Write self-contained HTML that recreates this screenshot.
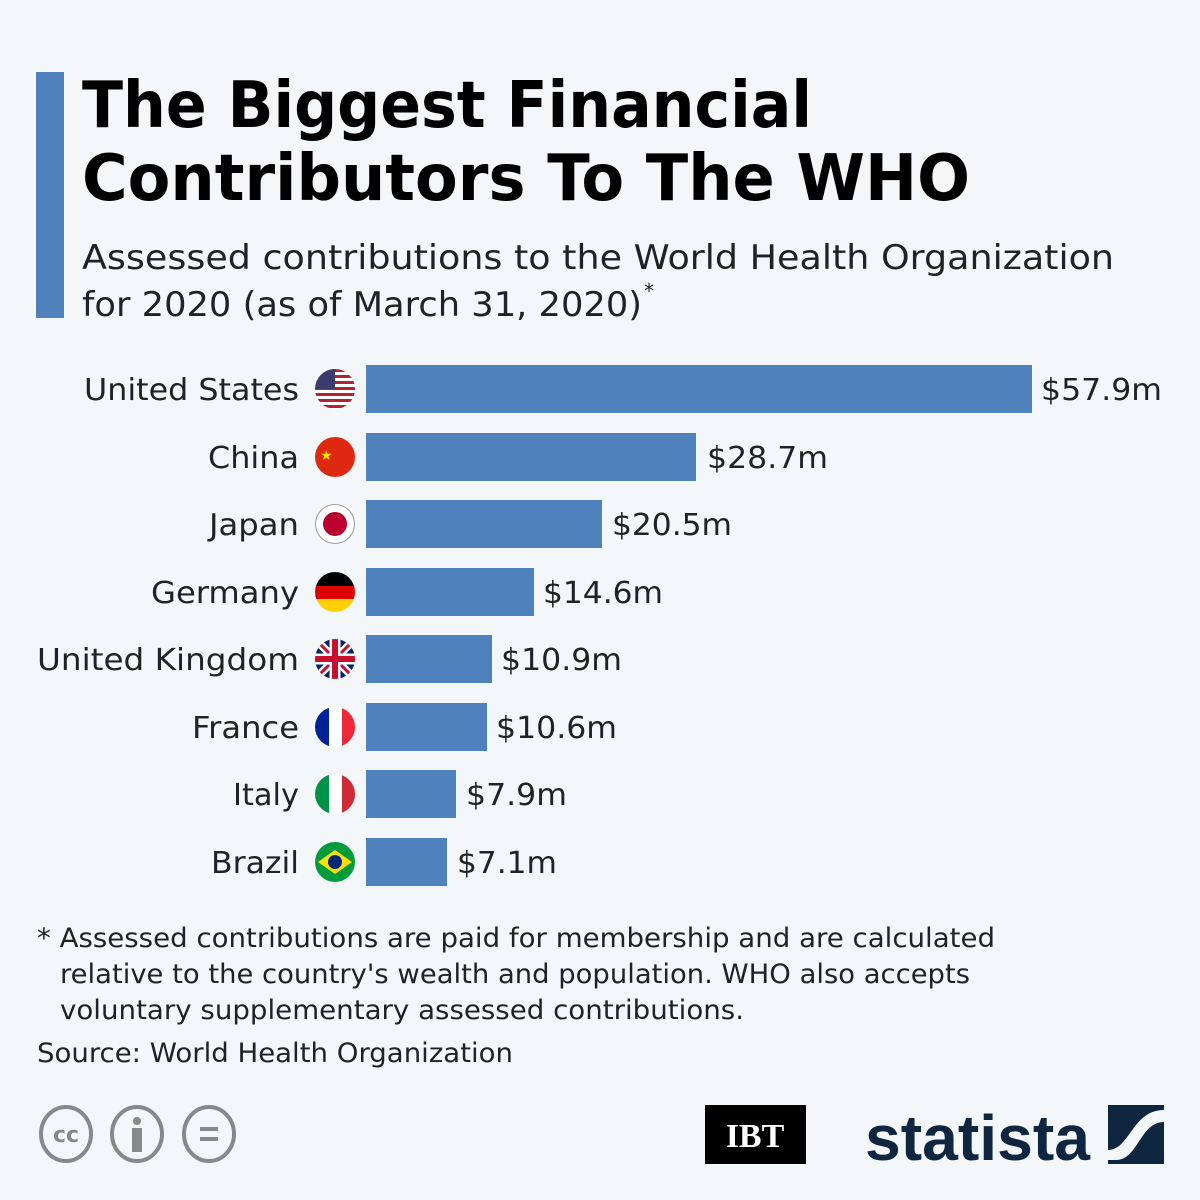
<!DOCTYPE html>
<html><head><style>
body{margin:0;background:#f3f7fa;}
svg{display:block;font-family:"DejaVu Sans","Liberation Sans",sans-serif;}
</style></head><body>
<svg width="1200" height="1200" viewBox="0 0 1200 1200" xmlns="http://www.w3.org/2000/svg">
<rect width="1200" height="1200" fill="#f3f7fa"/>
<rect x="36" y="72" width="28" height="246" fill="#4f81bd"/>
<g font-family="DejaVu Sans" font-weight="bold" font-size="64" fill="#000">
<text x="82" y="127" textLength="730" lengthAdjust="spacingAndGlyphs">The Biggest Financial</text>
<text x="82" y="200" textLength="888" lengthAdjust="spacingAndGlyphs">Contributors To The WHO</text>
</g>
<g font-size="34" fill="#222">
<text x="82" y="269" textLength="1032" lengthAdjust="spacingAndGlyphs">Assessed contributions to the World Health Organization</text>
<text x="82" y="316" textLength="560" lengthAdjust="spacingAndGlyphs">for 2020 (as of March 31, 2020)</text>
<text x="644" y="298" font-size="20">*</text>
</g>
<g font-size="30" fill="#222" text-anchor="end" lengthAdjust="spacingAndGlyphs">
<text x="299" y="400" textLength="215" lengthAdjust="spacingAndGlyphs">United States</text>
<text x="299" y="468" textLength="91" lengthAdjust="spacingAndGlyphs">China</text>
<text x="299" y="535" textLength="90" lengthAdjust="spacingAndGlyphs">Japan</text>
<text x="299" y="603" textLength="148" lengthAdjust="spacingAndGlyphs">Germany</text>
<text x="299" y="670" textLength="262" lengthAdjust="spacingAndGlyphs">United Kingdom</text>
<text x="299" y="738" textLength="107" lengthAdjust="spacingAndGlyphs">France</text>
<text x="299" y="805" textLength="66" lengthAdjust="spacingAndGlyphs">Italy</text>
<text x="299" y="873" textLength="88" lengthAdjust="spacingAndGlyphs">Brazil</text>
</g>
<g fill="#4f81bd">
<rect x="366" y="365" width="666" height="48"/>
<rect x="366" y="433" width="330" height="48"/>
<rect x="366" y="500" width="236" height="48"/>
<rect x="366" y="568" width="168" height="48"/>
<rect x="366" y="635" width="126" height="48"/>
<rect x="366" y="703" width="121" height="48"/>
<rect x="366" y="770" width="90" height="48"/>
<rect x="366" y="838" width="81" height="48"/>
</g>
<g font-size="30" fill="#222">
<text x="1041" y="400" textLength="121" lengthAdjust="spacingAndGlyphs">$57.9m</text>
<text x="707" y="468" textLength="121" lengthAdjust="spacingAndGlyphs">$28.7m</text>
<text x="612" y="535" textLength="120" lengthAdjust="spacingAndGlyphs">$20.5m</text>
<text x="543" y="603" textLength="120" lengthAdjust="spacingAndGlyphs">$14.6m</text>
<text x="501" y="670" textLength="121" lengthAdjust="spacingAndGlyphs">$10.9m</text>
<text x="496" y="738" textLength="121" lengthAdjust="spacingAndGlyphs">$10.6m</text>
<text x="466" y="805" textLength="101" lengthAdjust="spacingAndGlyphs">$7.9m</text>
<text x="457" y="873" textLength="100" lengthAdjust="spacingAndGlyphs">$7.1m</text>
</g>
<defs>
<clipPath id="c1"><circle cx="335" cy="389" r="20"/></clipPath>
<clipPath id="c4"><circle cx="335" cy="592" r="20"/></clipPath>
<clipPath id="c5"><circle cx="335" cy="659" r="20"/></clipPath>
<clipPath id="c6"><circle cx="335" cy="727" r="20"/></clipPath>
<clipPath id="c7"><circle cx="335" cy="794" r="20"/></clipPath>
</defs>
<g clip-path="url(#c1)">
<rect x="315" y="369" width="40" height="40" fill="#fff"/>
<g fill="#b22234"><rect x="315" y="369" width="40" height="3"/><rect x="315" y="375" width="40" height="3"/><rect x="315" y="381" width="40" height="3"/><rect x="315" y="387" width="40" height="3"/><rect x="315" y="393" width="40" height="3"/><rect x="315" y="399" width="40" height="3"/><rect x="315" y="405" width="40" height="3"/></g>
<rect x="315" y="369" width="20" height="20" fill="#3c3b6e"/>
</g>
<circle cx="335" cy="457" r="20" fill="#de2910"/>
<text x="320" y="460" font-size="14" fill="#ffde00">★</text>
<circle cx="335" cy="524" r="19.5" fill="#fff" stroke="#999"/>
<circle cx="335" cy="524" r="12" fill="#bc002d"/>
<g clip-path="url(#c4)"><rect x="315" y="572" width="40" height="14" fill="#000"/><rect x="315" y="586" width="40" height="13" fill="#dd0000"/><rect x="315" y="599" width="40" height="14" fill="#ffce00"/></g>
<g clip-path="url(#c5)"><rect x="315" y="639" width="40" height="40" fill="#012169"/>
<path d="M315 639L355 679M355 639L315 679" stroke="#fff" stroke-width="8"/>
<path d="M315 639L355 679M355 639L315 679" stroke="#c8102e" stroke-width="3"/>
<path d="M335 639V679M315 659H355" stroke="#fff" stroke-width="11"/>
<path d="M335 639V679M315 659H355" stroke="#c8102e" stroke-width="6"/></g>
<g clip-path="url(#c6)"><rect x="315" y="707" width="14" height="40" fill="#002395"/><rect x="329" y="707" width="13" height="40" fill="#fff"/><rect x="342" y="707" width="14" height="40" fill="#ed2939"/></g>
<g clip-path="url(#c7)"><rect x="315" y="774" width="14" height="40" fill="#009246"/><rect x="329" y="774" width="13" height="40" fill="#fff"/><rect x="342" y="774" width="14" height="40" fill="#ce2b37"/></g>
<circle cx="335" cy="862" r="20" fill="#009c3b"/>
<polygon points="318,862 335,850 352,862 335,874" fill="#ffdf00"/>
<circle cx="335" cy="862" r="7" fill="#002776"/>
<g font-size="27" fill="#222">
<text x="37" y="947" textLength="958" lengthAdjust="spacingAndGlyphs">* Assessed contributions are paid for membership and are calculated</text>
<text x="60" y="983" textLength="910" lengthAdjust="spacingAndGlyphs">relative to the country's wealth and population. WHO also accepts</text>
<text x="60" y="1019" textLength="684" lengthAdjust="spacingAndGlyphs">voluntary supplementary assessed contributions.</text>
<text x="37" y="1062" textLength="476" lengthAdjust="spacingAndGlyphs">Source: World Health Organization</text>
</g>
<g fill="none" stroke="#888" stroke-width="4">
<ellipse cx="66" cy="1134" rx="25" ry="27"/>
<ellipse cx="137" cy="1134" rx="25" ry="27"/>
<ellipse cx="209" cy="1134" rx="25" ry="27"/>
</g>
<text x="66" y="1142" font-size="22" font-weight="bold" fill="#888" text-anchor="middle">cc</text>
<circle cx="137" cy="1121" r="4" fill="#888"/>
<rect x="132" y="1128" width="10" height="24" fill="#888"/>
<rect x="200" y="1127" width="18" height="4" fill="#888"/><rect x="200" y="1137" width="18" height="4" fill="#888"/>
<rect x="705" y="1105" width="101" height="59" fill="#000"/>
<text x="755" y="1147" font-family="Liberation Serif" font-weight="bold" font-size="34" fill="#fff" text-anchor="middle">IBT</text>
<text x="865" y="1160" font-family="Liberation Sans" font-weight="bold" font-size="64" fill="#0f2640" textLength="225" lengthAdjust="spacingAndGlyphs">statista</text>
<rect x="1108" y="1105" width="56" height="59" fill="#0f2640"/>
<path d="M1108 1150 C1130 1150 1132 1110 1164 1110 L1164 1122 C1140 1122 1138 1160 1116 1160 L1108 1160Z" fill="#f3f7fa"/>
</svg>
</body></html>
